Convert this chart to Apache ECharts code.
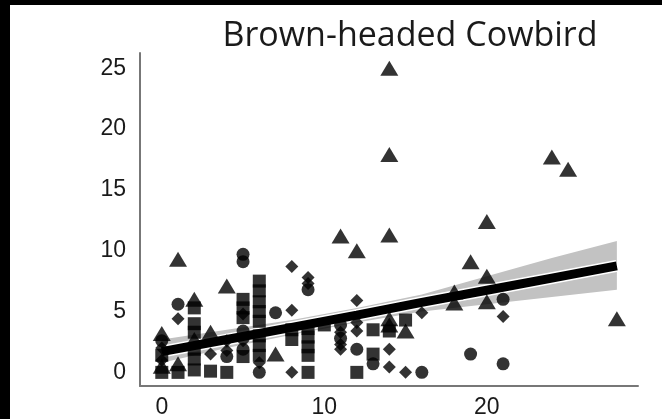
<!DOCTYPE html>
<html>
<head>
<meta charset="utf-8">
<script src="https://cdn.jsdelivr.net/npm/echarts@6/dist/echarts.min.js"></script>
<style>
html,body{margin:0;padding:0;background:#000;width:662px;height:419px;overflow:hidden;}
#c{position:absolute;left:10px;top:5px;width:652px;height:414px;background:#fff;}
</style>
</head>
<body>
<div id="c"></div>
<script>
const titleText = 'Brown-headed Cowbird';
const xTickLabels = [0, 10, 20];
const yTickLabels = [0, 5, 10, 15, 20, 25];

const triangles = [[14,25],[14,17.9],[24,17.7],[25,16.7],[20,12.4],[11,11.2],[14,11.3],[12,10],[1,9.3],[19,9.1],[20,7.9],[4,7.1],[18,6.6],[18,5.7],[20,5.8],[28,4.4],[14,4.4],[14,3.9],[15,3.4],[7,1.5],[0,3.2],[0,0.5],[1,0.7],[2,6.0],[2,2.7],[3,3.3]];
const squares = [[0,0],[0,1.4],[1,0],[2,5.3],[2,4.0],[2,3.3],[2,1.9],[2,1.1],[2,0.2],[3,0.1],[4,0],[5,6.0],[5,5.3],[5,4.5],[5,1.3],[6,7.5],[6,6.7],[6,5.8],[6,5.0],[6,4.2],[6,3.0],[6,2.2],[6,1.4],[8,3.5],[8,2.7],[9,3.6],[9,2.9],[9,2.1],[9,1.4],[9,0],[10,3.9],[12,0],[13,3.5],[13,1.5],[14,3.4],[15,4.3]];
const diamonds = [[0,2.0],[0,1.0],[1,4.4],[3,1.5],[4,2.6],[4,1.8],[5,4.8],[5,2.6],[6,0.8],[8,8.7],[8,5.1],[8,0],[9,7.8],[9,7.3],[11,3.3],[11,1.9],[11,2.3],[12,5.9],[12,4.1],[12,3.4],[14,1.9],[14,0.45],[15,0],[16,4.9],[21,4.6]];
const circles = [[0,2.6],[1,5.6],[4,1.3],[5,9.7],[5,9.1],[5,3.4],[5,1.9],[6,0],[7,4.9],[9,6.8],[11,3.9],[11,2.8],[12,1.9],[13,0.7],[16,0],[19,1.5],[21,6.0],[21,0.7]];

const fitX     = [0, 4, 8, 12, 16, 20, 24, 28];
const fitLine  = [1.7, 2.7, 3.7, 4.7, 5.75, 6.75, 7.75, 8.75];
const fitUpper = [2.7, 3.5, 4.3, 5.3, 6.4, 7.9, 9.4, 10.8];
const fitLower = [0.8, 2.0, 3.1, 4.1, 5.0, 5.6, 6.2, 6.8];

const lineData = fitX.map((x, i) => [x, fitLine[i]]);
const bandData = fitX.map((x, i) => [x, fitLower[i], fitUpper[i]]);

const chart = echarts.init(document.getElementById('c'));
const labelFont = {fontFamily: 'Liberation Sans, Arial, sans-serif', fontSize: 23, color: '#1a1a1a'};
const axisLine = {show: true, onZero: false, lineStyle: {color: '#777', width: 2}};

chart.setOption({
  animation: false,
  backgroundColor: '#fff',
  title: {
    text: titleText,
    left: 395, top: 9, textAlign: 'center',
    textStyle: {fontFamily: 'Open Sans, sans-serif', fontSize: 34, fontWeight: 'normal', color: '#1a1a1a'}
  },
  grid: {left: 130, right: 24, top: 48, bottom: 32},
  xAxis: {
    type: 'value', min: -1.34, max: 29.3,
    axisLine: axisLine, axisTick: {show: false}, splitLine: {show: false},
    axisLabel: Object.assign({customValues: xTickLabels, margin: 10}, labelFont)
  },
  yAxis: {
    type: 'value', min: -1.12, max: 26.25,
    axisLine: axisLine, axisTick: {show: false}, splitLine: {show: false},
    axisLabel: Object.assign({customValues: yTickLabels, margin: 14}, labelFont)
  },
  series: [
    {
      type: 'custom', z: 1, silent: true,
      data: bandData,
      renderItem: function (params, api) {
        if (params.dataIndex !== 0) return;
        const up = bandData.map(d => api.coord([d[0], d[2]]));
        const lo = bandData.slice().reverse().map(d => api.coord([d[0], d[1]]));
        return {type: 'polygon', shape: {points: up.concat(lo)}, style: {fill: '#c2c2c2', stroke: null}};
      },
      encode: {x: 0, y: [1, 2]}
    },
    {type: 'line', data: lineData, z: 2, symbol: 'none', lineStyle: {color: '#fff', width: 12}, silent: true},
    {type: 'line', data: lineData, z: 3, symbol: 'none', lineStyle: {color: '#000', width: 9}, silent: true},
    {type: 'scatter', z: 4, data: squares, symbol: 'rect', symbolSize: 13, itemStyle: {color: '#000'}},
    {type: 'scatter', z: 4, data: circles, symbol: 'circle', symbolSize: 13, itemStyle: {color: '#000'}},
    {type: 'scatter', z: 4, data: diamonds, symbol: 'diamond', symbolSize: 13, itemStyle: {color: '#000'}},
    {type: 'scatter', z: 4, data: triangles, symbol: 'triangle', symbolSize: [18, 15], itemStyle: {color: '#000'}}
  ]
});
</script>
</body>
</html>
